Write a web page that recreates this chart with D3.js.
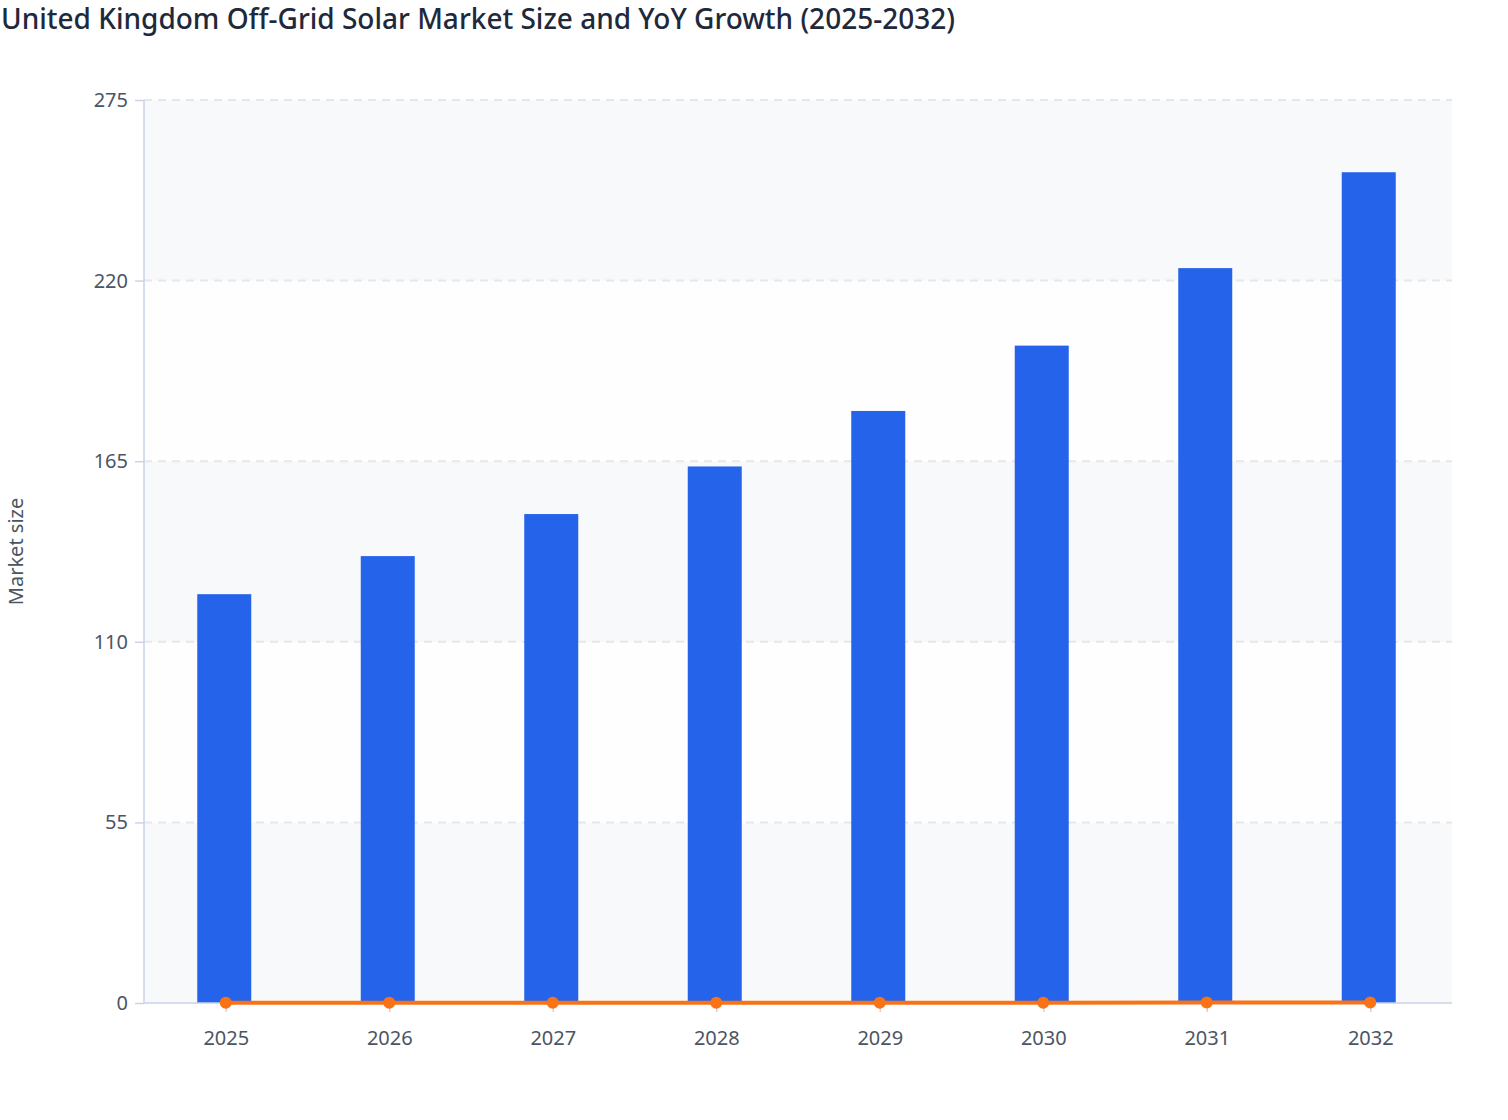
<!DOCTYPE html>
<html>
<head>
<meta charset="utf-8">
<script src="https://cdn.jsdelivr.net/npm/d3@7/dist/d3.min.js"></script>
<style>
  html, body { margin: 0; padding: 0; background: #ffffff; }
  svg { display: block; font-family: "Noto Sans", "Open Sans", sans-serif; }
</style>
</head>
<body>
<svg id="chart" width="1508" height="1120"></svg>
<script>
const years = ["2025", "2026", "2027", "2028", "2029", "2030", "2031", "2032"];
const marketSize = [124.5, 136.1, 148.9, 163.4, 180.3, 200.2, 223.8, 253.0];
const yoyGrowth = [0.09, 0.093, 0.094, 0.098, 0.102, 0.11, 0.119, 0.13];
const yTicks = [0, 55, 110, 165, 220, 275];
const titleText = "United Kingdom Off-Grid Solar Market Size and YoY Growth (2025-2032)";
const yTitle = "Market size";

(function () {
const svg = d3.select("#chart");
const pL = 144, pR = 1452, pT = 100, pB = 1003;

const xc = d3.scalePoint().domain(years).range([pL, pR]).padding(0.5);
const y = d3.scaleLinear().domain([0, 275]).range([pB, pT]);

// alternating bands
const bands = d3.pairs(yTicks);
svg.append("g").selectAll("rect").data(bands).join("rect")
  .attr("x", pL).attr("width", pR - pL)
  .attr("y", d => y(d[1])).attr("height", d => y(d[0]) - y(d[1]))
  .attr("fill", (d, i) => i % 2 === 0 ? "#f8f9fb" : "#fefefe");

// gridlines
svg.append("g").selectAll("line").data(yTicks.filter(t => t > 0)).join("line")
  .attr("x1", pL).attr("x2", pR)
  .attr("y1", d => y(d)).attr("y2", d => y(d))
  .attr("stroke", "#e5e7eb").attr("stroke-width", 2).attr("stroke-dasharray", "8,6");

// bars
svg.append("g").selectAll("rect").data(years).join("rect")
  .attr("x", d => xc(d) - 28.5).attr("width", 54)
  .attr("y", (d, i) => y(marketSize[i]))
  .attr("height", (d, i) => y(0) - y(marketSize[i]))
  .attr("fill", "#2563eb");

// y axis
const yAxis = d3.axisLeft(y).tickValues(yTicks).tickSize(9).tickPadding(7);
const gy = svg.append("g").attr("transform", `translate(${pL},0)`).call(yAxis);
gy.select(".domain").attr("stroke", "#c9d2e8").attr("stroke-width", 1.5).attr("d", `M0,${pT}V${pB}`);
gy.selectAll(".tick line").attr("stroke", "#c9d2e8").attr("stroke-width", 1.5);
gy.selectAll(".tick text").attr("fill", "#4b5563").attr("font-size", 20).attr("font-family", "Noto Sans, sans-serif");

// x axis
const xAxis = d3.axisBottom(xc).tickSize(9).tickPadding(19);
const gx = svg.append("g").attr("transform", `translate(0,${pB})`).call(xAxis);
gx.select(".domain").attr("stroke", "#c9d2e8").attr("stroke-width", 1.5).attr("d", `M${pL},0H${pR}`);
gx.selectAll(".tick line").attr("stroke", "#c9d2e8").attr("stroke-width", 1.5);
gx.selectAll(".tick text").attr("fill", "#4b5563").attr("font-size", 20).attr("font-family", "Noto Sans, sans-serif");

// growth line
const line = d3.line().x((d, i) => xc(years[i])).y(d => y(d));
svg.append("path").datum(yoyGrowth).attr("d", line)
  .attr("fill", "none").attr("stroke", "#f97316").attr("stroke-width", 4);
svg.append("g").selectAll("circle").data(yoyGrowth).join("circle")
  .attr("cx", (d, i) => xc(years[i])).attr("cy", d => y(d)).attr("r", 6)
  .attr("fill", "#f97316");

// titles
svg.append("text").attr("x", 1).attr("y", 29)
  .attr("font-size", 28).attr("font-weight", 500).attr("fill", "#1e293b")
  .text(titleText);
svg.append("text").attr("transform", `translate(23,${(pT + pB) / 2}) rotate(-90)`)
  .attr("text-anchor", "middle").attr("font-size", 20).attr("fill", "#4b5563")
  .text(yTitle);
})();
</script>
</body>
</html>
